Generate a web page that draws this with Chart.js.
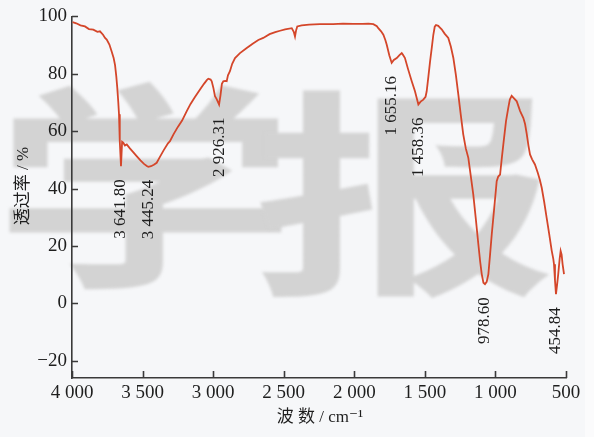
<!DOCTYPE html>
<html>
<head>
<meta charset="utf-8">
<script src="https://cdn.jsdelivr.net/npm/chart.js@4/dist/chart.umd.min.js"></script>
<style>
  html, body { margin: 0; padding: 0; background: #f6f7f9; }
  #wrap { width: 594px; height: 437px; }
</style>
</head>
<body>
<div id="wrap"><canvas id="ir" width="594" height="437"></canvas></div>
<script>
// FT-IR spectrum: wavenumber (cm^-1) vs transmittance (%)
const wavenumbers = [
  3996, 3970, 3940, 3908, 3880, 3849, 3820, 3802, 3780, 3766, 3754, 3735, 3719, 3705, 3695, 3686,
  3679, 3672, 3667, 3663, 3660, 3656, 3653, 3649, 3645, 3637, 3625, 3612, 3590, 3565, 3542, 3515,
  3490, 3470, 3459, 3440, 3420, 3400, 3380, 3350, 3320, 3306, 3280, 3250, 3220, 3187, 3160, 3130,
  3093, 3065, 3045, 3034, 3018, 3010, 2998, 2987, 2975, 2958, 2948, 2938, 2928, 2915, 2904, 2895,
  2881, 2865, 2845, 2810, 2762, 2720, 2680, 2645, 2600, 2560, 2526, 2490, 2443, 2428, 2420, 2412,
  2404, 2373, 2320, 2243, 2150, 2080, 2007, 1940, 1900, 1865, 1840, 1830, 1810, 1794, 1780, 1770,
  1752, 1735, 1720, 1699, 1680, 1664, 1655, 1641, 1620, 1593, 1570, 1546, 1530, 1511, 1495, 1487,
  1475, 1463, 1450, 1440, 1430, 1421, 1405, 1395, 1381, 1360, 1334, 1316, 1298, 1280, 1263, 1245,
  1228, 1210, 1192, 1175, 1157, 1140, 1121, 1108, 1097, 1085, 1074, 1062, 1050, 1038, 1026, 1008,
  991, 980, 967, 955, 944, 925, 909, 898, 885, 870, 849, 825, 802, 790, 778, 766,
  755, 740, 720, 700, 685, 672, 655, 637, 620, 601, 590, 585, 578, 571, 563, 555,
  545, 538, 531, 524, 514
];
const transmittance = [
  98.0, 97.6, 96.9, 96.5, 95.6, 95.4, 94.6, 94.8, 93.6, 92.5, 91.9, 90.2, 87.8, 85.5, 83.0, 79.0,
  75.0, 70.0, 65.9, 61.0, 56.5, 51.0, 47.8, 52.0, 56.3, 56.0, 55.0, 55.4, 54.0, 52.6, 51.3, 49.8,
  48.6, 47.9, 47.6, 47.8, 48.3, 49.0, 50.8, 53.4, 55.8, 56.5, 59.0, 61.5, 63.7, 67.0, 69.5, 71.8,
  74.5, 76.5, 77.8, 78.3, 78.0, 77.4, 75.0, 72.2, 71.2, 69.3, 72.5, 76.5, 77.4, 77.5, 77.4, 79.5,
  80.9, 83.5, 85.5, 87.2, 89.0, 90.5, 91.8, 92.5, 93.8, 94.5, 95.0, 95.5, 95.9, 94.5, 93.0, 95.2,
  96.5, 96.9, 97.1, 97.3, 97.3, 97.5, 97.4, 97.4, 97.5, 97.3, 96.6, 95.9, 94.8, 93.6, 91.8, 90.1,
  86.5, 83.8, 84.8, 85.5, 86.5, 87.2, 86.6, 85.5, 81.8, 77.4, 73.9, 69.3, 70.3, 71.0, 72.0, 73.9,
  79.0, 84.3, 89.5, 93.6, 96.4, 97.0, 96.7, 96.2, 95.5, 94.0, 92.5, 89.5, 85.5, 79.5, 72.8, 65.5,
  58.9, 54.0, 50.7, 44.5, 38.0, 30.0, 20.6, 14.5, 10.2, 7.2, 6.7, 7.5, 10.2, 17.0, 24.1, 33.5,
  42.6, 44.2, 44.9, 50.5, 55.4, 63.5, 68.1, 71.0, 72.3, 71.5, 70.4, 67.0, 64.6, 62.5, 59.0, 55.0,
  51.9, 50.2, 48.4, 45.5, 43.0, 40.3, 35.5, 29.8, 24.5, 18.3, 15.5, 13.6, 8.0, 3.2, 6.5, 10.2,
  15.5, 18.3, 17.0, 13.6, 10.2
];

// Absorption bands: printed band label and the spectrum point it marks
const peakLabels = ['3 641.80', '3 445.24', '2 926.31', '1 655.16', '1 458.36', '978.60', '454.84'];
const peakAt = [3653, 3459, 2958, 1735, 1546, 1074, 571];

// Axis ticks and titles
const xTicks = [4000, 3500, 3000, 2500, 2000, 1500, 1000, 500];
const yTicks = [-20, 0, 20, 40, 60, 80, 100];
const xTitle = '波 数 / cm⁻¹';
const yTitle = '透过率 / %';
const watermark = ['学', '报'];

const serif = "'Liberation Serif', 'Times New Roman', 'DejaVu Serif', 'Noto Sans CJK SC', serif";
const ink = '#1e1e1e';
const axisColor = '#3a3a3a';

const fmtWn = v => v >= 1000 ? Math.floor(v / 1000) + ' ' + String(v % 1000).padStart(3, '0') : String(v);

const points = wavenumbers.map((w, i) => ({ x: w, y: transmittance[i] }));

const decor = {
  id: 'decor',
  beforeDraw(chart) {
    const { ctx, width, height } = chart;
    ctx.save();
    ctx.fillStyle = '#f6f7f9';
    ctx.fillRect(0, 0, width, height);
    ctx.fillStyle = '#fbfbfc';
    ctx.fillRect(585, 0, width - 585, height);
    // soft, wide watermark characters behind the plot
    ctx.filter = 'blur(1.5px)';
    ctx.fillStyle = '#d3d3d3';
    ctx.font = "bold 220px 'Noto Sans CJK SC'";
    ctx.textAlign = 'center';
    ctx.textBaseline = 'middle';
    const sx = 1.38;
    ctx.scale(sx, 1);
    ctx.fillText(watermark[0], 145 / sx, 187);
    ctx.fillText(watermark[1], 405 / sx, 194);
    ctx.restore();
  },
  afterDraw(chart) {
    const { ctx, chartArea } = chart;
    const xs = chart.scales.x, ys = chart.scales.y;
    ctx.save();
    // inward tick marks
    ctx.strokeStyle = axisColor;
    ctx.lineWidth = 1.6;
    ctx.beginPath();
    xTicks.forEach(v => {
      const px = Math.round(xs.getPixelForValue(v)) + 0.5;
      ctx.moveTo(px, chartArea.bottom);
      ctx.lineTo(px, chartArea.bottom - 7);
    });
    yTicks.forEach(v => {
      const py = Math.round(ys.getPixelForValue(v)) + 0.5;
      ctx.moveTo(chartArea.left, py);
      ctx.lineTo(chartArea.left + 6, py);
    });
    ctx.stroke();

    // band labels, vertical, just below each minimum
    ctx.fillStyle = ink;
    ctx.font = '17px ' + serif;
    ctx.textAlign = 'right';
    ctx.textBaseline = 'middle';
    peakLabels.forEach((txt, i) => {
      const idx = wavenumbers.indexOf(peakAt[i]);
      const px = xs.getPixelForValue(wavenumbers[idx]);
      const py = ys.getPixelForValue(transmittance[idx]);
      ctx.save();
      ctx.translate(px, py + 13);
      ctx.rotate(-Math.PI / 2);
      ctx.fillText(txt, 0, 0);
      ctx.restore();
    });

    // axis titles
    ctx.font = '17px ' + serif;
    ctx.textAlign = 'center';
    ctx.textBaseline = 'middle';
    ctx.fillText(xTitle, 320, 418);
    ctx.save();
    ctx.translate(24, 186);
    ctx.rotate(-Math.PI / 2);
    ctx.fillText(yTitle, 0, 0);
    ctx.restore();
    ctx.restore();
  }
};

new Chart(document.getElementById('ir'), {
  type: 'line',
  data: {
    datasets: [{
      data: points,
      borderColor: '#d4462a',
      borderWidth: 1.8,
      pointRadius: 0,
      tension: 0,
      fill: false
    }]
  },
  options: {
    responsive: false,
    animation: false,
    layout: { padding: { top: 15, right: 28, bottom: 0, left: 0 } },
    plugins: { legend: { display: false }, tooltip: { enabled: false } },
    scales: {
      x: {
        type: 'linear',
        reverse: true,
        min: 500,
        max: 4000,
        afterBuildTicks: s => { s.ticks = xTicks.map(v => ({ value: v })); },
        afterFit: s => { s.height = 59; },
        grid: { display: false, drawTicks: false },
        border: { display: true, color: axisColor, width: 1.6 },
        ticks: {
          autoSkip: false, maxRotation: 0, padding: 4,
          color: ink, font: { family: serif, size: 19 },
          callback: v => fmtWn(v)
        }
      },
      y: {
        min: -26,
        max: 100,
        afterBuildTicks: s => { s.ticks = yTicks.map(v => ({ value: v })); },
        afterFit: s => { s.width = 72; },
        grid: { display: false, drawTicks: false },
        border: { display: true, color: axisColor, width: 1.6 },
        ticks: {
          padding: 5,
          color: ink, font: { family: serif, size: 19 },
          callback: v => String(v).replace('-', '−')
        }
      }
    }
  },
  plugins: [decor]
});
</script>
</body>
</html>
